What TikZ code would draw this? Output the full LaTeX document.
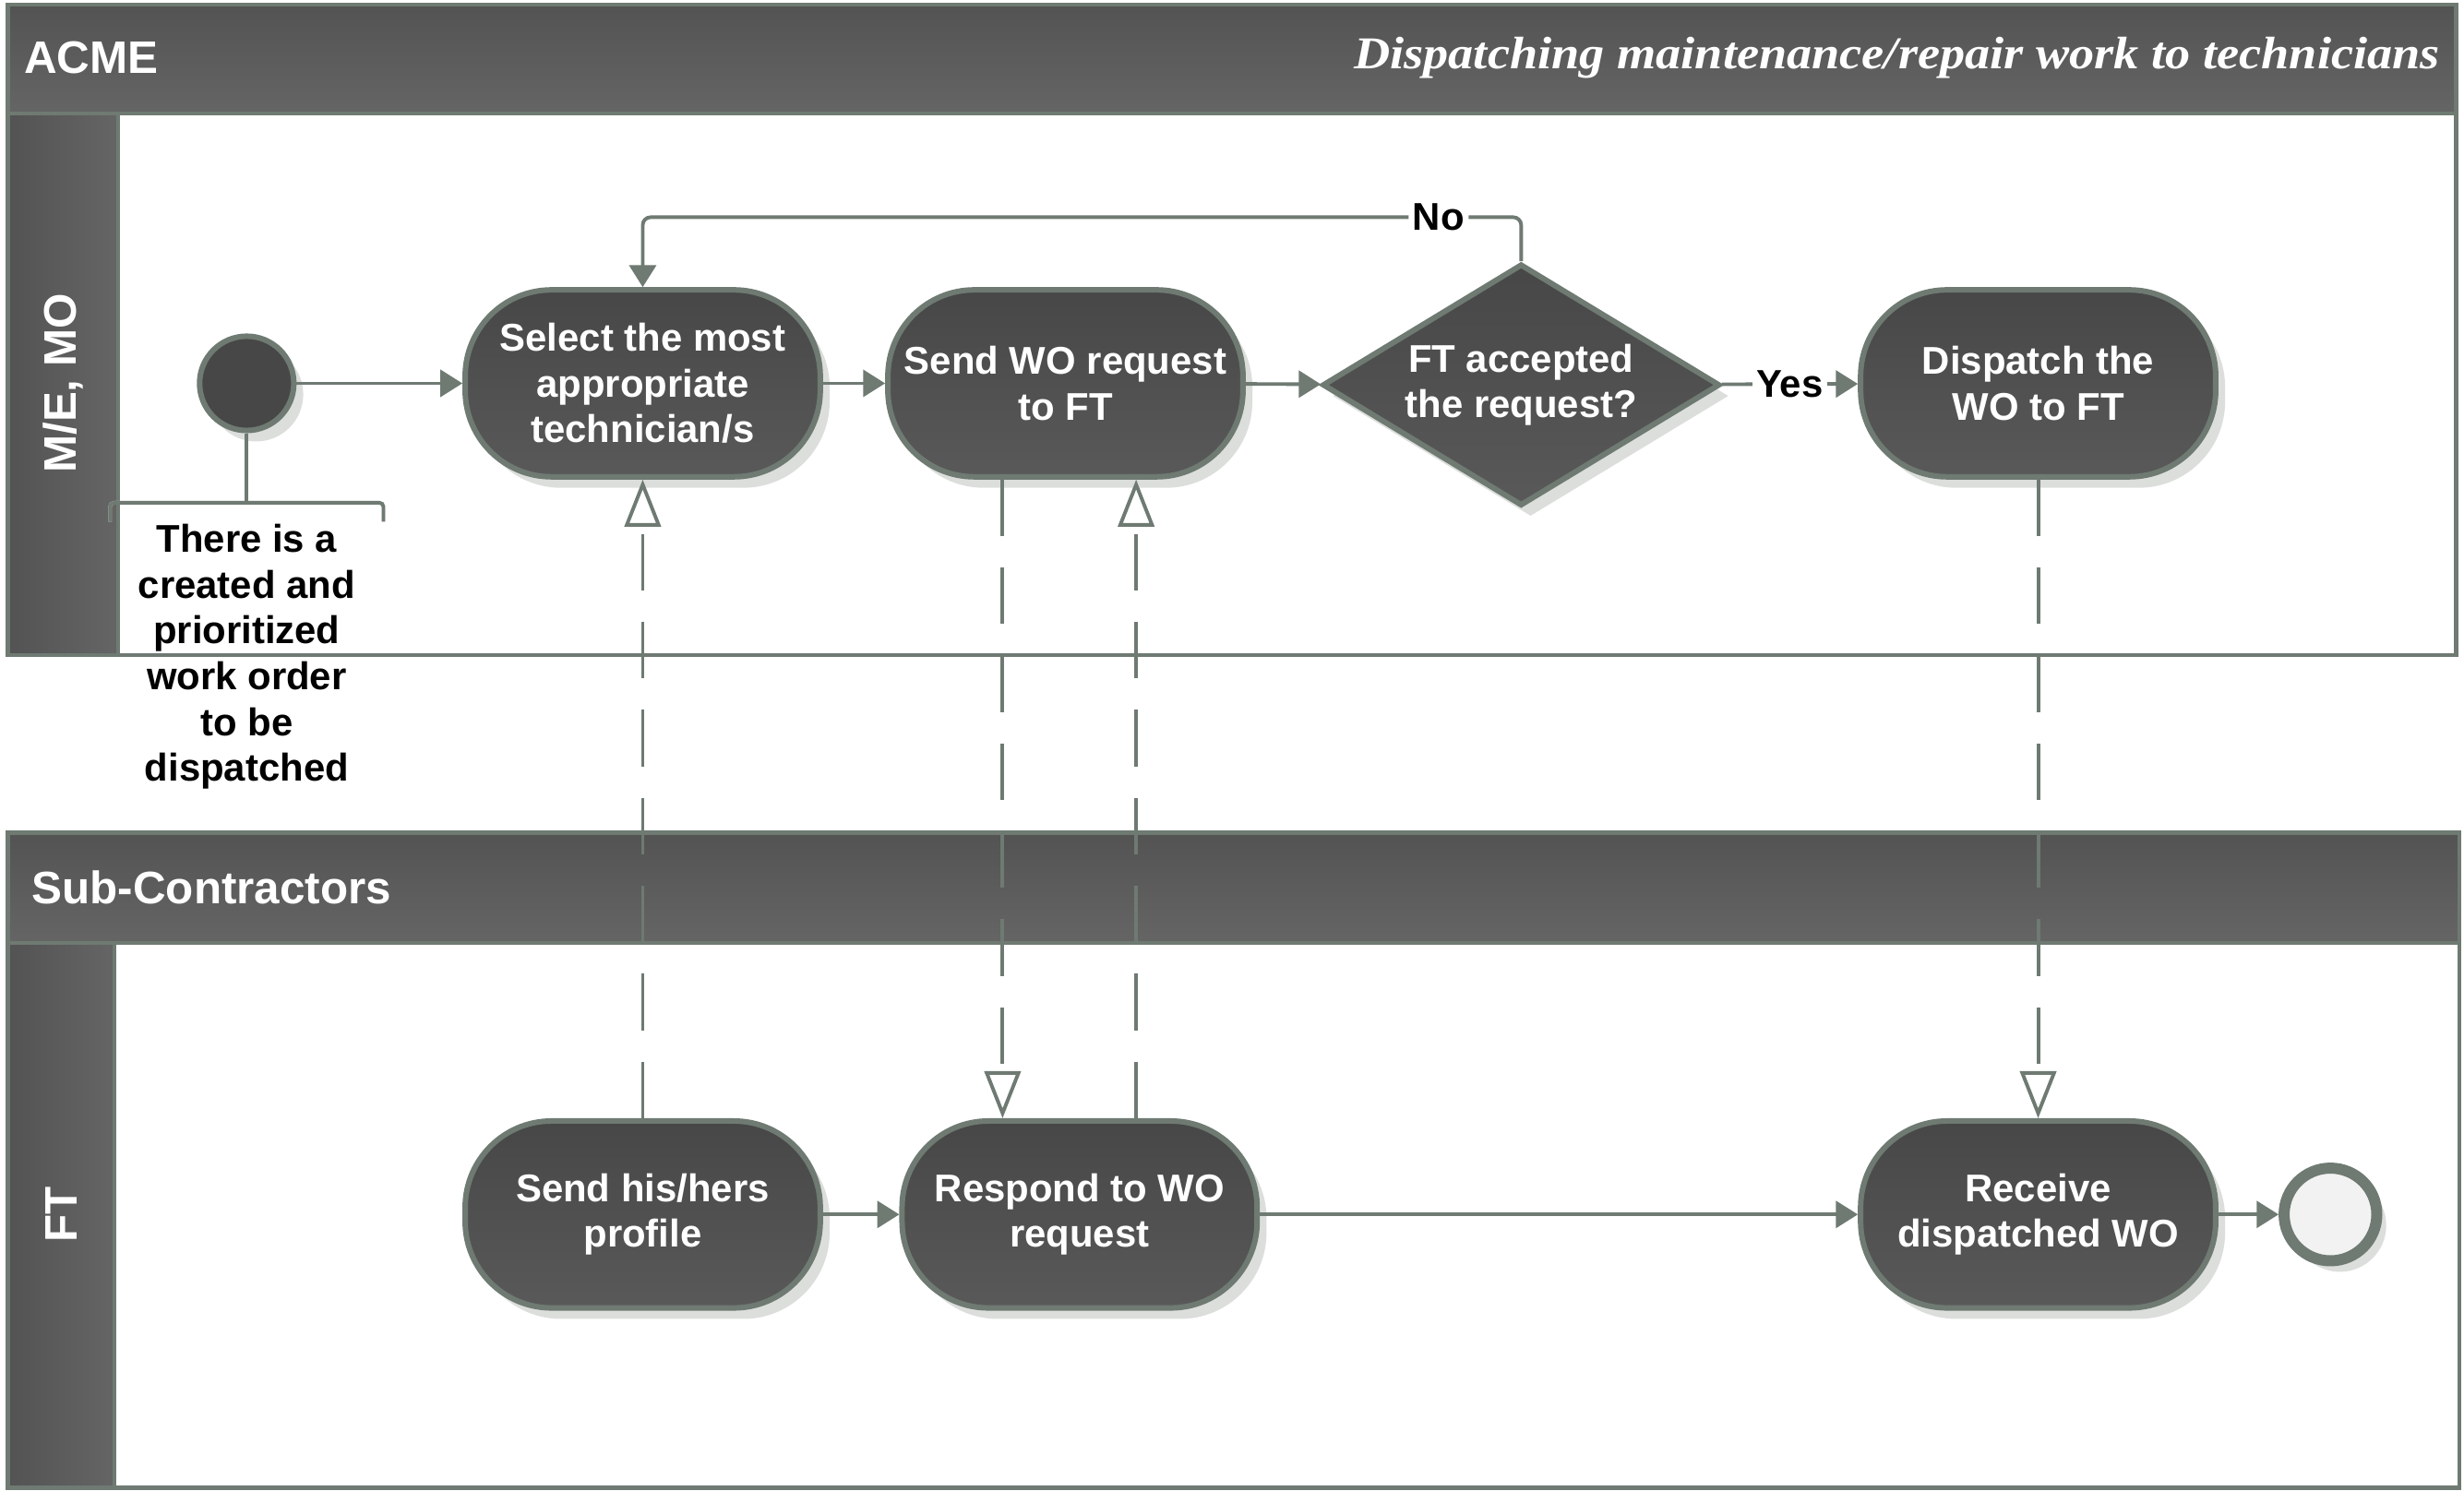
\documentclass[tikz,border=0pt]{standalone}
\usepackage{fontspec}
\setmainfont{Liberation Sans}
\newfontfamily\titlefont[FakeStretch=1.1]{Liberation Serif}
\usetikzlibrary{shapes.geometric, positioning, arrows.meta, shadows}

\definecolor{laneline}{HTML}{6E7A72}
\definecolor{headtop}{HTML}{535353}
\definecolor{headbot}{HTML}{656565}
\definecolor{acttop}{HTML}{474747}
\definecolor{actbot}{HTML}{595959}
\definecolor{shade}{HTML}{DCDEDC}
\definecolor{endfill}{HTML}{F2F2F2}

\begin{document}
\begin{tikzpicture}[
    x=0.02cm, y=-0.02cm,
    font=\bfseries\fontsize{14}{16.6}\selectfont,
    shadowed/.style={drop shadow={shadow xshift=0.12cm, shadow yshift=-0.14cm, fill=shade, opacity=1}},
    act/.style={rectangle, rounded corners=1.1cm, draw=laneline, line width=2pt,
        top color=acttop, bottom color=actbot, text=white, align=center,
        minimum width=4.52cm, minimum height=2.38cm, shadowed},
    decide/.style={diamond, aspect=1.64, inner sep=0pt, draw=laneline, line width=2pt,
        top color=acttop, bottom color=actbot, text=white, align=center,
        minimum width=5.06cm, minimum height=3.08cm, shadowed},
    startnode/.style={circle, draw=laneline, line width=2pt, fill=acttop,
        minimum size=1.2cm, inner sep=0pt, shadowed},
    endnode/.style={circle, draw=laneline, line width=4pt, fill=endfill,
        minimum size=1.18cm, inner sep=0pt, shadowed},
    pool/.style={draw=laneline, line width=1.4pt},
    headtxt/.style={text=white, inner sep=0pt, font=\bfseries\fontsize{16.5}{20}\selectfont},
    flow/.style={draw=laneline, line width=1.3pt, -{Triangle[length=0.28cm, width=0.34cm]}},
    msg/.style={draw=laneline, line width=1.3pt, dash pattern=on 0.72cm off 0.4cm,
        -{Triangle[open, fill=white, length=0.6cm, width=0.46cm]}},
    lbl/.style={fill=white, text=black, inner sep=1.5pt},
    note/.style={text=black, align=center, inner sep=0pt}
]
    \useasboundingbox[fill=white] (0,0) rectangle (1568,949);

    % Pool ACME
    \shade[top color=headtop, bottom color=headbot] (5,3) rectangle (1563,72);
    \shade[left color=headtop, right color=headbot] (5,72) rectangle (75,417);
    \draw[pool] (5,3) rectangle (1563,417);
    \draw[pool] (5,72) -- (1563,72);
    \draw[pool] (75,72) -- (75,417);
    \node[headtxt, anchor=west] (acme) at (15,37) {ACME};
    \node[headtxt, anchor=east, font=\titlefont\bfseries\itshape\fontsize{16.5}{20}\selectfont] (title) at (1553,37)
        {Dispatching maintenance/repair work to technicians};
    \node[headtxt, rotate=90] (melane) at (40,244) {M/E, MO};

    % Pool Sub-Contractors
    \shade[top color=headtop, bottom color=headbot] (5,530) rectangle (1565,600);
    \shade[left color=headtop, right color=headbot] (5,600) rectangle (73,947);
    \draw[pool] (5,530) rectangle (1565,947);
    \draw[pool] (5,600) -- (1565,600);
    \draw[pool] (73,600) -- (73,947);
    \node[headtxt, anchor=west] (subc) at (20,565) {Sub-Contractors};
    \node[headtxt, rotate=90] (ftlane) at (39,773) {FT};

    % Nodes
    \node[startnode] (start) at (157,244) {};
    \node[act] (sel) at (409,244) {Select the most\\appropriate\\technician/s};
    \node[act] (sendwo) at (678,244) {Send WO request\\to FT};
    \node[decide] (acc) at (968,245) {FT accepted\\the request?};
    \node[act] (disp) at (1297,244) {Dispatch the\\WO to FT};
    \node[act] (prof) at (409,773) {Send his/hers\\profile};
    \node[act] (resp) at (687,773) {Respond to WO\\request};
    \node[act] (recv) at (1297,773) {Receive\\dispatched WO};
    \node[endnode] (stop) at (1483,773) {};

    % Precondition bracket
    \coordinate (brl) at (70,320);
    \coordinate (brr) at (244,320);
    \begin{scope}[shift={(6,9)}, draw=shade, line width=1.3pt]
        \draw (start.south) -- (start.south |- brl);
        \draw[rounded corners=0.05cm] ([yshift=-0.24cm]brl) -- (brl) -- (brr) -- ([yshift=-0.24cm]brr);
    \end{scope}
    \draw[laneline, line width=1.3pt] (start.south) -- (start.south |- brl);
    \draw[laneline, line width=1.3pt, rounded corners=0.05cm] ([yshift=-0.24cm]brl) -- (brl) -- (brr) -- ([yshift=-0.24cm]brr);
    \node[note] (cond) at (157,418) {There is a\\created and\\prioritized\\work order\\to be\\dispatched};

    % Control flow
    \draw[flow] (start) -- (sel);
    \draw[flow] (sel) -- (sendwo);
    \draw[flow] (sendwo) -- (acc);
    \draw[flow] (acc) -- node[lbl] {Yes} (disp);
    \draw[flow, rounded corners=0.1cm] (acc.north) -- ++(0,-28) -| node[lbl, pos=0.047] {No} (sel.north);
    \draw[flow] (prof) -- (resp);
    \draw[flow] (resp) -- (recv);
    \draw[flow] (recv) -- (stop);

    % Messages between lanes
    \draw[msg] (prof) -- (sel);
    \draw[msg] ([xshift=-0.8cm]sendwo.south) -- ([xshift=-0.8cm]sendwo.south |- resp.north);
    \draw[msg] ([xshift=0.72cm]resp.north) -- ([xshift=0.72cm]resp.north |- sendwo.south);
    \draw[msg] (disp) -- (recv);
\end{tikzpicture}
\end{document}
